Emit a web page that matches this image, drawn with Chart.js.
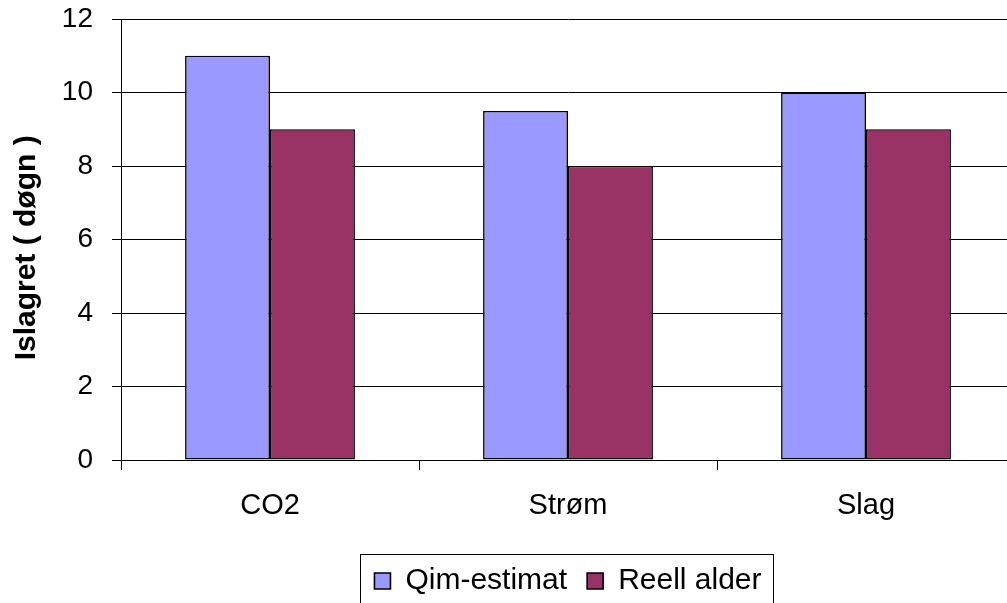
<!DOCTYPE html>
<html>
<head>
<meta charset="utf-8">
<script src="https://cdn.jsdelivr.net/npm/chart.js@4/dist/chart.umd.min.js"></script>
<style>
  html, body { margin: 0; padding: 0; overflow: hidden; background: #fff; }
  #wrap { width: 1007px; height: 603px; overflow: hidden; position: relative; }
  canvas { display: block; }
</style>
</head>
<body>
<div id="wrap"><canvas id="c" width="1030" height="606"></canvas></div>
<script>
const categories = ['CO2', 'Strøm', 'Slag'];
const qimEstimat = [11, 9.5, 10];
const reellAlder = [9, 8, 9];
const seriesNames = ['Qim-estimat', 'Reell alder'];
const yTitle = 'Islagret ( døgn )';

const legendBorder = {
  id: 'legendBorder',
  afterDraw(chart) {
    const hb = chart.legend && chart.legend.legendHitBoxes;
    if (!hb || !hb.length) return;
    let l = Infinity, r = -Infinity, t = Infinity, b = -Infinity;
    hb.forEach(h => { l = Math.min(l, h.left); r = Math.max(r, h.left + h.width); t = Math.min(t, h.top); b = Math.max(b, h.top + h.height); });
    const ctx = chart.ctx;
    ctx.save();
    ctx.strokeStyle = '#000';
    ctx.lineWidth = 1;
    ctx.strokeRect(Math.round(l - 14) + 0.5, Math.round(t - 12) + 0.5, Math.round(r - l + 26), Math.round(b - t + 24));
    ctx.restore();
  }
};

new Chart(document.getElementById('c'), {
  type: 'bar',
  data: {
    labels: categories,
    datasets: [
      { label: seriesNames[0], data: qimEstimat, backgroundColor: '#9999FF', borderColor: '#000', borderWidth: 1.6, borderSkipped: false },
      { label: seriesNames[1], data: reellAlder, backgroundColor: '#993366', borderColor: '#000', borderWidth: 1.6, borderSkipped: false }
    ]
  },
  options: {
    responsive: false,
    devicePixelRatio: 1,
    animation: false,
    layout: { padding: { top: 19, right: 15, left: 0, bottom: 0 } },
    datasets: { bar: { categoryPercentage: 0.57, barPercentage: 1.0 } },
    scales: {
      x: {
        offset: true,
        grid: { display: true, drawOnChartArea: false, color: '#000', tickLength: 10, offset: true },
        border: { display: true, color: '#000', width: 1 },
        ticks: { color: '#000', font: { family: 'Liberation Sans, Arial', size: 29 }, padding: 19 },
        afterFit(s) { s.height = 86; s.paddingLeft = 0; s.paddingRight = 0; }
      },
      y: {
        min: 0, max: 12,
        ticks: { stepSize: 2, color: '#000', font: { family: 'Liberation Sans, Arial', size: 28 }, padding: 19 },
        grid: { color: '#000', lineWidth: 1, tickLength: 9 },
        border: { display: true, color: '#000', width: 1 },
        title: { display: true, text: yTitle + '\u00a0\u00a0', color: '#000', font: { family: 'Liberation Sans, Arial', size: 30, weight: 'bold' }, padding: { top: 9, bottom: 0 } },
        afterFit(s) { s.width = 121; s.paddingTop = 0; s.paddingBottom = 0; }
      }
    },
    plugins: {
      tooltip: { enabled: false },
      legend: {
        position: 'bottom',
        fullSize: false,
        labels: { color: '#000', font: { family: 'Liberation Sans, Arial', size: 30 }, boxWidth: 16, boxHeight: 16, padding: 20 }
      }
    }
  },
  plugins: [legendBorder]
});
</script>
</body>
</html>
